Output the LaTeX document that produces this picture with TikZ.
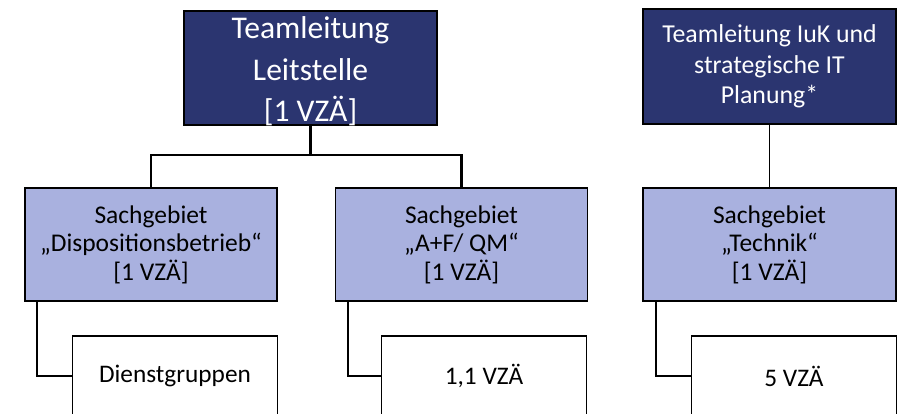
\documentclass[tikz,border=0pt]{standalone}
\usepackage{fontspec}
\setmainfont{Carlito}
\usetikzlibrary{positioning}

\definecolor{leadblue}{RGB}{43,53,112}
\definecolor{areablue}{RGB}{169,177,223}

\begin{document}
\begin{tikzpicture}[x=1pt, y=-1pt,
  lead/.style={draw=black, line width=1.6pt, fill=leadblue, text=white, align=center,
    minimum width=253pt, inner sep=0pt},
  area/.style={draw=black, line width=1.6pt, fill=areablue, text=black, align=center,
    minimum width=252pt, minimum height=113pt, inner sep=0pt,
    font=\fontsize{25.5}{28.5}\selectfont},
  team/.style={draw=black, line width=1.6pt, fill=white, text=black, align=center,
    minimum width=205pt, minimum height=80pt, inner sep=0pt,
    font=\fontsize{25.3}{28}\selectfont},
  link/.style={draw=black, line width=2.4pt},
  thinlink/.style={draw=black, line width=1.4pt}]

  % page frame, bottom row runs off the page
  \path[use as bounding box] (0,0) rectangle (897,413);
  \clip (0,0) rectangle (897,413);

  % the two team leads
  \node[lead, minimum height=114pt, font=\fontsize{31.6}{41.5}\selectfont] (tlLeit) at (310.5,68)
    {\raisebox{-2pt}[57pt][41pt]{\begin{tabular}{@{}c@{}}Teamleitung\\Leitstelle\\{[1 VZÄ]}\end{tabular}}};
  \node[lead, minimum height=115pt, font=\fontsize{25.8}{30.5}\selectfont] (tlIuK) at (769.5,66.5)
    {Teamleitung IuK und\\strategische IT\\Planung*};

  % Sachgebiete
  \node[area] (sgDispo) at (151,244.5) {Sachgebiet\\„Dispositionsbetrieb“\\{[1 VZÄ]}};
  \node[area] (sgQM) at (461.5,244.5) {Sachgebiet\\„A+F/ QM“\\{[1 VZÄ]}};
  \node[area, minimum width=253pt] (sgTech) at (769.5,244.5) {Sachgebiet\\„Technik“\\{[1 VZÄ]}};

  % staff boxes
  \node[team] (tmDienst) at (175,376) {Dienstgruppen};
  \node[team] (tmQM) at (484,376) {1,1 VZÄ};
  \node[team] (tmTech) at (794,376) {5 VZÄ};

  % tree lines
  \draw[link] (tlLeit.south) -- ++(0,29) coordinate (fork) -| (sgDispo.north);
  \draw[link] (fork) -| (sgQM.north);
  \draw[thinlink] (tlIuK.south) -- (sgTech.north);

  \draw[link] ([xshift=13pt]sgDispo.south west) |- (tmDienst.west);
  \draw[link] ([xshift=13pt]sgQM.south west) |- (tmQM.west);
  \draw[link] ([xshift=14pt]sgTech.south west) |- (tmTech.west);

\end{tikzpicture}
\end{document}
